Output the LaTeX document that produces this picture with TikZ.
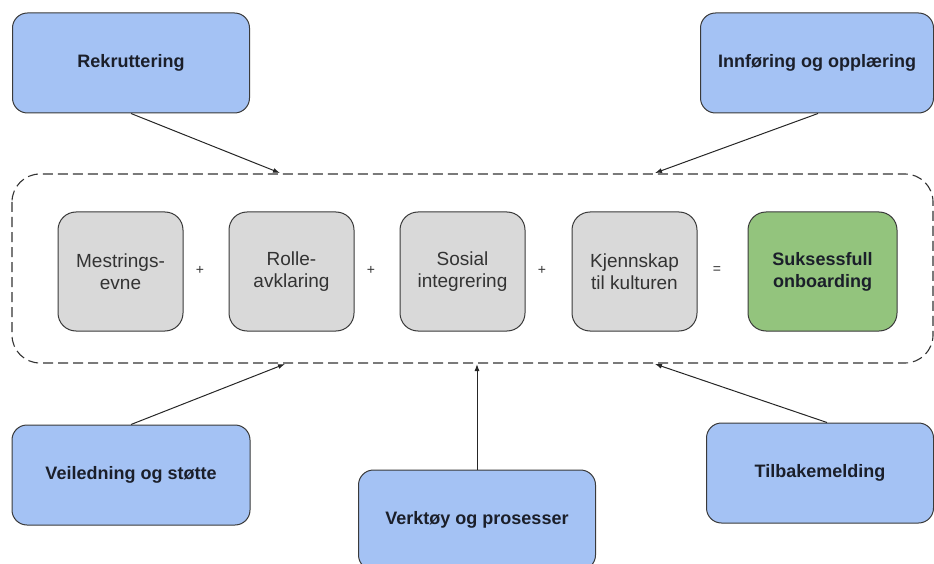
\documentclass[tikz,border=0pt]{standalone}
\usepackage{fontspec}
\setmainfont{Liberation Sans}
\usetikzlibrary{arrows.meta}
\definecolor{bluefill}{HTML}{A4C2F4}
\definecolor{greyfill}{HTML}{D9D9D9}
\definecolor{greenfill}{HTML}{93C47D}
\definecolor{edge}{HTML}{3A3A3A}
\definecolor{txtdark}{HTML}{1B1F2A}
\definecolor{txtgrey}{HTML}{333333}
\tikzset{
  bluebox/.style={draw=edge, line width=1pt, fill=bluefill, rounded corners=15pt, minimum width=#1, minimum height=100pt, font=\fontsize{18}{21}\selectfont\bfseries, text=txtdark, align=center},
  greybox/.style={draw=edge, line width=1pt, fill=greyfill, rounded corners=18pt, minimum width=125pt, minimum height=119pt, font=\fontsize{19}{22}\selectfont, text=txtgrey, align=center},
  greenbox/.style={draw=edge, line width=1pt, fill=greenfill, rounded corners=18pt, minimum width=149pt, minimum height=119pt, font=\fontsize{18}{22}\selectfont\bfseries, text=txtdark, align=center},
  opsign/.style={font=\fontsize{14}{16}\selectfont, text=txtgrey},
  conn/.style={draw=black!85, line width=1pt, -{Latex[length=7pt,width=5pt]}},
  container/.style={draw=black!80, line width=1.1pt, dash pattern=on 10pt off 5pt, rounded corners=28pt}
}
\begin{document}
\begin{tikzpicture}[x=1pt,y=-1pt]
\useasboundingbox (0,0) rectangle (934,564);
% container
\draw[container] (12,174) rectangle (933,363);
% top boxes
\node[bluebox=237pt] (rek) at (131,63) {Rekruttering};
\node[bluebox=233pt] (inn) at (817,63) {Innføring og opplæring};
% bottom boxes
\node[bluebox=238pt] (vei) at (131,475) {Veiledning og støtte};
\node[bluebox=237pt] (ver) at (477,520) {Verktøy og prosesser};
\node[bluebox=227pt] (til) at (820,473) {Tilbakemelding};
% inner boxes
\node[greybox] (mes) at (120.5,271.5) {Mestrings-\\evne};
\node[greybox] (rol) at (291.5,271.5) {Rolle-\\avklaring};
\node[greybox] (sos) at (462.5,271.5) {Sosial\\integrering};
\node[greybox] (kje) at (634.5,271.5) {Kjennskap\\til kulturen};
\node[greenbox] (suk) at (822.5,271.5) {Suksessfull\\onboarding};
% operators
\node[opsign] (p1) at (200,270) {+};
\node[opsign] (p2) at (371,270) {+};
\node[opsign] (p3) at (542,270) {+};
\node[opsign] (eq) at (717,270) {=};
% arrow targets on container
\coordinate (t1) at (280,173);
\coordinate (t2) at (655,173);
\coordinate (t3) at (285,364);
\coordinate (t4) at (477,364);
\coordinate (t5) at (655,364);
\draw[conn] (rek.south) -- (t1);
\draw[conn] ([xshift=1pt]inn.south) -- (t2);
\draw[conn] (vei.north) -- (t3);
\draw[conn] (ver.north) -- (t4);
\draw[conn] ([xshift=7pt]til.north) -- (t5);
\end{tikzpicture}
\end{document}
